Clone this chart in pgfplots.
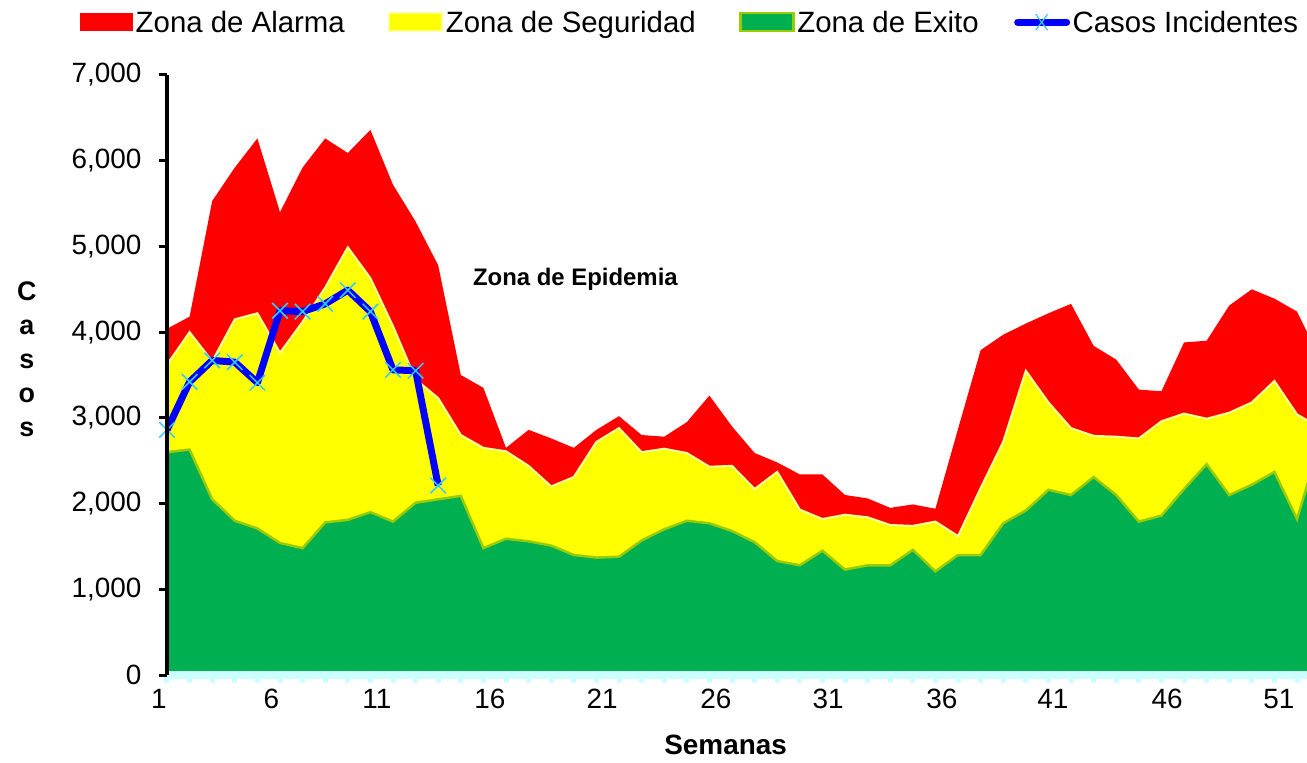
\documentclass[border=0pt]{standalone}
\usepackage{fontspec}
\setmainfont{Liberation Sans}
\usepackage{pgfplots}
\usepackage{pgfplotstable}
\pgfplotsset{compat=1.18}
\definecolor{zred}{HTML}{FF0000}
\definecolor{zyel}{HTML}{FFFF00}
\definecolor{zyelb}{HTML}{FFFF99}
\definecolor{zgreen}{HTML}{00B050}
\definecolor{zgreenb}{HTML}{99CC00}
\definecolor{xaxisc}{HTML}{CCFFFF}
\definecolor{mk}{HTML}{33CCFF}
\pgfplotstableread{
w alarma seg exito
1  4040  3620  2600
2  4180  4000  2630
3  5530  3660  2050
4  5920  4150  1800
5  6260  4220  1710
6  5400  3760  1540
7  5920  4120  1480
8  6260  4520  1780
9  6090  4990  1810
10 6360  4630  1900
11 5720  4070  1790
12 5290  3450  2010
13 4780  3230  2050
14 3500  2800  2090
15 3350  2650  1480
16 2650  2610  1590
17 2860  2440  1560
18 2760  2200  1510
19 2650  2310  1400
20 2860  2720  1370
21 3020  2880  1380
22 2800  2600  1570
23 2780  2640  1700
24 2950  2590  1800
25 3260  2430  1770
26 2900  2440  1680
27 2590  2170  1550
28 2480  2370  1330
29 2340  1930  1280
30 2340  1820  1450
31 2100  1870  1230
32 2060  1840  1280
33 1950  1750  1280
34 1990  1740  1460
35 1940  1790  1210
36 2870  1620  1400
37 3790  2180  1400
38 3970  2720  1770
39 4100  3550  1920
40 4220  3180  2160
41 4330  2880  2100
42 3840  2790  2310
43 3680  2780  2100
44 3330  2760  1790
45 3310  2960  1860
46 3880  3050  2170
47 3900  2990  2460
48 4310  3060  2100
49 4500  3180  2220
50 4390  3430  2370
51 4240  3040  1820
52 3700  2890  2700
}\zonas
\pgfplotstableread{
w casos
1  2860
2  3420
3  3670
4  3650
5  3410
6  4250
7  4240
8  4330
9  4490
10 4240
11 3560
12 3550
13 2210
}\casos
\begin{document}
\begin{tikzpicture}
\useasboundingbox (-167bp,-88bp) rectangle (1140bp,675bp);
\begin{axis}[
  scale only axis, width=1140bp, height=600bp,
  xmin=1, xmax=51.44, ymin=0, ymax=7000,
  axis lines=left, axis line style={-},
  x axis line style={draw=xaxisc, line width=8bp},
  y axis line style={draw=black, line width=4bp},
  axis on top=true,
  clip mode=individual,
  tick align=outside,
  major tick length=8bp,
  xtick={1,...,52},
  xticklabel={\relax},
  x tick style={draw=xaxisc, line width=5bp},
  y tick style={draw=black, line width=3bp},
  extra x ticks={1,5.62,10.29,15.29,20.25,25.29,30.25,35.29,40.2,45.25,50.2},
  extra x tick labels={1\rule{16bp}{0pt},6,11,16,21,26,31,36,41,46,51},
  extra x tick style={major tick length=0pt, tick style={draw=none},
    xticklabel style={yshift=-11bp}},
  ytick={0,1000,...,7000},
  yticklabel style={xshift=-14bp},
  tick label style={font=\fontsize{28}{32}\selectfont},
  /pgf/number format/1000 sep={,},
  /pgf/number format/assume math mode=true,
  xlabel={\bfseries Semanas},
  xlabel style={font=\fontsize{28}{32}\selectfont, at={(axis description cs:0.49,-0.1167)}, anchor=center},
  legend columns=4,
  legend style={at={(axis description cs:-0.0763,1.088)}, anchor=west, draw=none, fill=none,
    inner sep=0pt, font=\fontsize{29.5}{33}\selectfont, nodes={inner sep=2.5bp}},
  legend cell align=left,
]
\addplot[fill=zred, draw=none,
  legend image code/.code={\fill[zred] (0bp,-9bp) rectangle (53bp,9bp);}]
  table[x=w, y=alarma] {\zonas} \closedcycle;
\addlegendentry{Zona de Alarma\rule{41bp}{0pt}}
\addplot[fill=zyel, draw=zyelb, line width=2bp,
  legend image code/.code={\filldraw[fill=zyel, draw=zyelb, line width=2bp] (0bp,-9bp) rectangle (53bp,9bp);}]
  table[x=w, y=seg] {\zonas} \closedcycle;
\addlegendentry{Zona de Seguridad\rule{41bp}{0pt}}
\addplot[fill=zgreen, draw=zgreenb, line width=2.5bp,
  legend image code/.code={\filldraw[fill=zgreen, draw=zgreenb, line width=2.5bp] (0bp,-9bp) rectangle (53bp,9bp);}]
  table[x=w, y=exito] {\zonas} \closedcycle;
\addlegendentry{Zona de Exito\rule{33bp}{0pt}}
\addplot[draw=blue, line width=7bp, line join=round, mark=x,
  mark size=11bp, mark options={draw=mk, line width=1.5bp},
  legend image code/.code={\draw[blue, line width=7bp, line cap=round] (3bp,0bp) -- (52bp,0bp);
    \draw[mk, line width=1.2bp] (21bp,-8bp) -- (33bp,8bp) (21bp,8bp) -- (33bp,-8bp);}]
  table[x=w, y=casos] {\casos};
\addlegendentry{Casos Incidentes}
\node[font=\bfseries\fontsize{24}{28}\selectfont] at (axis cs:19.07,4620) {Zona de Epidemia};
\node[font=\bfseries\fontsize{27}{34}\selectfont, align=center] at (axis description cs:-0.123,0.522)
  {\begin{tabular}{@{}c@{}}C\\a\\s\\o\\s\end{tabular}};
\end{axis}
\end{tikzpicture}
\end{document}
